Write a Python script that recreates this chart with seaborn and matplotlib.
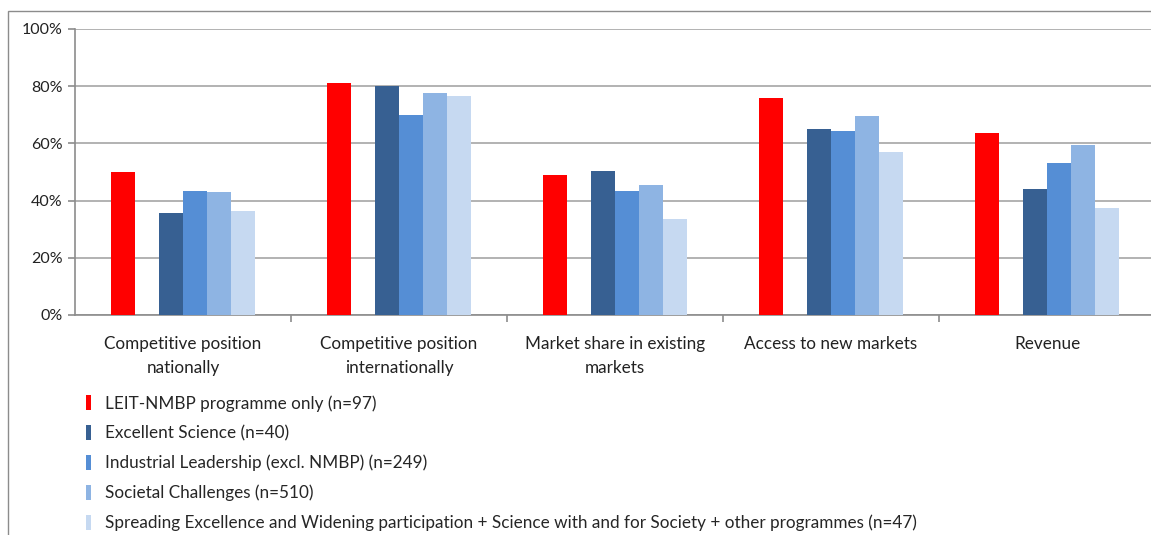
import matplotlib
matplotlib.use("Agg")
import matplotlib.pyplot as plt
import numpy as np
import pandas as pd
import seaborn as sns
from matplotlib.patches import Patch, Rectangle

categories = ["Competitive position\nnationally",
              "Competitive position\ninternationally",
              "Market share in existing\nmarkets",
              "Access to new markets",
              "Revenue"]
series = ["LEIT-NMBP programme only (n=97)",
          "Excellent Science (n=40)",
          "Industrial Leadership (excl. NMBP) (n=249)",
          "Societal Challenges (n=510)",
          "Spreading Excellence and Widening participation + Science with and for Society + other programmes (n=47)"]
leit = [50, 81, 49, 76, 63.5]
excellent = [35.5, 80, 50.5, 65, 44]
industrial = [43.5, 70, 43.5, 64.5, 53]
societal = [43, 77.5, 45.5, 69.5, 59.5]
spreading = [36.5, 76.5, 33.5, 57, 37.5]
values = [leit, excellent, industrial, societal, spreading]
colors = ["#FF0000", "#376092", "#558ED5", "#8EB4E3", "#C6D9F1"]
ytick_vals = [0, 20, 40, 60, 80, 100]
ytick_labels = ["0%", "20%", "40%", "60%", "80%", "100%"]

rows = []
for s, vals in zip(series, values):
    for c, v in zip(categories, vals):
        rows.append({"category": c, "series": s, "value": v})
df = pd.DataFrame(rows)

gap_level = " "
hue_order = [series[0], gap_level] + series[1:]
palette = {s: col for s, col in zip(series, colors)}
palette[gap_level] = "#FFFFFF"

sns.set_style("white")
plt.rcParams["font.family"] = ["Lato", "DejaVu Sans"]

fig = plt.figure(figsize=(11.51, 5.35), dpi=100)
ax = fig.add_axes([75 / 1151, 220 / 535, 1080 / 1151, 286 / 535])

sns.barplot(data=df, x="category", y="value", hue="series", order=categories,
            hue_order=hue_order, palette=palette, saturation=1, width=0.6667,
            gap=0, dodge=True, legend=False, errorbar=None, ax=ax,
            linewidth=0, zorder=3)

ax.set_xlim(-0.5, len(categories) - 0.5)
ax.set_ylim(0, 100)
ax.set_yticks(ytick_vals)
ax.set_yticklabels(ytick_labels)
ax.set_xlabel("")
ax.set_ylabel("")
ax.yaxis.grid(True, color="#A6A6A6", linewidth=1.2, zorder=0)
ax.set_axisbelow(True)
for sp in ["top", "right"]:
    ax.spines[sp].set_visible(False)
for sp in ["left", "bottom"]:
    ax.spines[sp].set_color("#8C8C8C")
    ax.spines[sp].set_linewidth(1.2)

ax.tick_params(axis="y", which="major", length=5, width=1.2, color="#8C8C8C",
               direction="out", left=True, labelsize=11.5, labelcolor="#222222", pad=4)
ax.tick_params(axis="x", which="major", length=0, labelsize=12.3,
               labelcolor="#222222", pad=15)
ax.set_xticks(np.arange(0.5, len(categories) - 0.5, 1), minor=True)
ax.tick_params(axis="x", which="minor", length=5, width=1.2, color="#8C8C8C",
               direction="out", bottom=True)
for lbl in ax.get_xticklabels():
    lbl.set_linespacing(1.65)
    lbl.set_verticalalignment("top")

handles = [Patch(facecolor=c, edgecolor="none") for c in colors]
fig.legend(handles, series, loc="upper left", bbox_to_anchor=(86 / 1151, 1 - 395 / 535),
           frameon=False, fontsize=12.3, handlelength=0.32, handleheight=0.95,
           handletextpad=0.8, labelspacing=0.79, borderaxespad=0, borderpad=0)

fig.patches.append(Rectangle((8 / 1151, -0.05), 1.1, 1 - 11 / 535 + 0.05,
                             transform=fig.transFigure, fill=False,
                             edgecolor="#8C8C8C", linewidth=1.0))

fig.savefig("out.png", dpi=100)
